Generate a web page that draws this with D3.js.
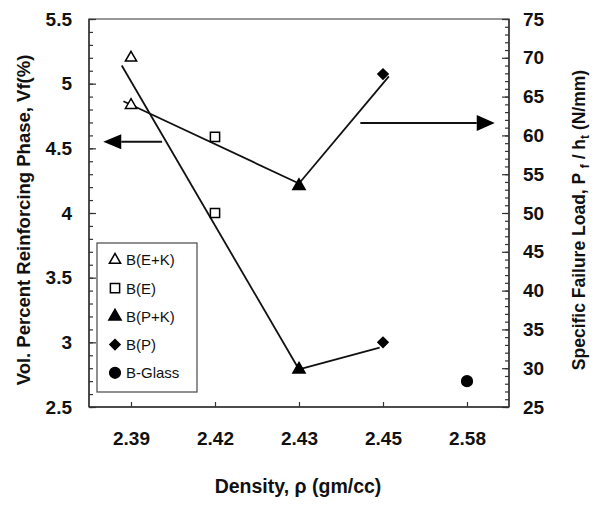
<!DOCTYPE html>
<html>
 <head>
  <meta charset="UTF-8">
  <title>Density vs Vf and failure load</title>
  <style>
    body { margin: 0; background: #fff; }
    text { font-family: "Liberation Sans", Arial, Helvetica, sans-serif; }
  </style>
 </head>
 <body>
<div id="viz-wrapper"></div>
 <script src="https://cdn.jsdelivr.net/npm/d3@7"></script>
 <script type="text/javascript">
    // category axis (density values)
    var categories = ["2.39", "2.42", "2.43", "2.45", "2.58"];

    // series: category index, left axis value (Vf %) and right axis value (load N/mm)
    var seriesNames = ["B(E+K)", "B(E)", "B(P+K)", "B(P)", "B-Glass"];
    var seriesCat   = [0, 1, 2, 3, 4];
    var vfValues    = [5.2, 4.0, 2.79, 3.0, 2.7];
    var loadValues  = [63.9, 59.8, 53.5, 67.9, null];

    // trend lines, x in category units
    var vfTrendA   = [[-0.11, 5.14], [2, 2.79]];
    var vfTrendB   = [[2, 2.79], [2.96, 2.96]];
    var loadTrendA = [[-0.09, 64.4], [2, 53.8]];
    var loadTrendB = [[2, 53.8], [3.07, 67.6]];

    // axis tick values
    var leftMajor  = [2.5, 3, 3.5, 4, 4.5, 5, 5.5];
    var rightMajor = [25, 30, 35, 40, 45, 50, 55, 60, 65, 70, 75];

    var width = 596, height = 505;
    // plot box edges (note: "top" is reserved on window, so use other names)
    var plotL = 89, plotR = 509, plotT = 19, plotB = 407;

    var svg = d3.select("#viz-wrapper")
                .append("svg")
                .attr("width", width)
                .attr("height", height);

    var x  = d3.scaleLinear().domain([-0.5, 4.5]).range([plotL, plotR]);
    var yL = d3.scaleLinear().domain([2.5, 5.5]).range([plotB, plotT]);
    var yR = d3.scaleLinear().domain([25, 75]).range([plotB, plotT]);

    // frame
    svg.append("rect")
       .attr("x", plotL).attr("y", plotT)
       .attr("width", plotR - plotL).attr("height", plotB - plotT)
       .attr("fill", "none").attr("stroke", "#777").attr("stroke-width", 1.5);

    function styleAxis(g) {
        g.select(".domain").remove();
        g.selectAll("line").attr("stroke", "#333").attr("stroke-width", 1.2);
        g.selectAll("text").attr("font-size", 19).attr("font-weight", "bold")
         .attr("fill", "#111").style("font-family", '"Liberation Sans", Arial, sans-serif');
    }

    // left axis: minor + major
    svg.append("g").attr("transform", "translate(" + plotL + ",0)")
       .call(d3.axisLeft(yL).tickValues(d3.range(25, 56).map(function(d) { return d / 10; }))
               .tickSize(-4).tickFormat(""))
       .call(styleAxis);
    svg.append("g").attr("transform", "translate(" + plotL + ",0)")
       .call(d3.axisLeft(yL).tickValues(leftMajor).tickSize(-7).tickPadding(17)
               .tickFormat(d3.format("")))
       .call(styleAxis);

    // right axis
    svg.append("g").attr("transform", "translate(" + plotR + ",0)")
       .call(d3.axisRight(yR).tickValues(d3.range(25, 76)).tickSize(-4).tickFormat(""))
       .call(styleAxis);
    svg.append("g").attr("transform", "translate(" + plotR + ",0)")
       .call(d3.axisRight(yR).tickValues(rightMajor).tickSize(-7).tickPadding(14)
               .tickFormat(d3.format("")))
       .call(styleAxis);

    // bottom axis
    svg.append("g").attr("transform", "translate(0," + plotB + ")")
       .call(d3.axisBottom(x).tickValues(d3.range(categories.length)).tickSize(-5).tickPadding(25)
               .tickFormat(function(i) { return categories[i]; }))
       .call(styleAxis);
    svg.append("line")
       .attr("x1", plotL).attr("x2", plotR).attr("y1", plotB).attr("y2", plotB)
       .attr("stroke", "#333").attr("stroke-width", 1.5);
    svg.append("line")
       .attr("x1", plotL).attr("x2", plotL).attr("y1", plotT).attr("y2", plotB)
       .attr("stroke", "#333").attr("stroke-width", 1.5);
    svg.append("line")
       .attr("x1", plotR).attr("x2", plotR).attr("y1", plotT).attr("y2", plotB)
       .attr("stroke", "#333").attr("stroke-width", 1.5);

    // trend lines
    var lineL = d3.line().x(function(d) { return x(d[0]); }).y(function(d) { return yL(d[1]); });
    var lineR = d3.line().x(function(d) { return x(d[0]); }).y(function(d) { return yR(d[1]); });
    [vfTrendA, vfTrendB].forEach(function(t) {
        svg.append("path").attr("d", lineL(t)).attr("fill", "none")
           .attr("stroke", "#111").attr("stroke-width", 1.8);
    });
    [loadTrendA, loadTrendB].forEach(function(t) {
        svg.append("path").attr("d", lineR(t)).attr("fill", "none")
           .attr("stroke", "#111").attr("stroke-width", 1.8);
    });

    // marker styles per series
    var markers = [
        { type: d3.symbolTriangle, size: 55, fill: "#fff", rot: 0 },
        { type: d3.symbolSquare,   size: 85, fill: "#fff", rot: 0 },
        { type: d3.symbolTriangle, size: 65, fill: "#000", rot: 0 },
        { type: d3.symbolSquare,   size: 52, fill: "#000", rot: 45 },
        { type: d3.symbolCircle,   size: 90, fill: "#000", rot: 0 }
    ];

    function drawMarker(g, i, px, py) {
        var m = markers[i];
        g.append("path")
         .attr("d", d3.symbol().type(m.type).size(m.size)())
         .attr("transform", "translate(" + px + "," + py + ") rotate(" + m.rot + ")")
         .attr("fill", m.fill)
         .attr("stroke", "#000")
         .attr("stroke-width", 1.5);
    }

    seriesNames.forEach(function(name, i) {
        if (vfValues[i] != null) drawMarker(svg, i, x(seriesCat[i]), yL(vfValues[i]));
        if (loadValues[i] != null) drawMarker(svg, i, x(seriesCat[i]), yR(loadValues[i]));
    });

    // arrows showing which axis each curve belongs to
    function arrow(x1, x2, y, head, half) {
        var dir = x2 > x1 ? 1 : -1;
        svg.append("line").attr("x1", x1).attr("x2", x2 - dir * head)
           .attr("y1", y).attr("y2", y).attr("stroke", "#111").attr("stroke-width", 2);
        svg.append("path")
           .attr("d", "M" + x2 + "," + y + "L" + (x2 - dir * head) + "," + (y - half) +
                      "L" + (x2 - dir * head) + "," + (y + half) + "Z")
           .attr("fill", "#000");
    }
    arrow(x(0.37), x(-0.33), yL(4.55), 18, 7.5);
    arrow(x(2.73), x(4.33), yR(61.6), 18, 8);

    // legend
    var lg = svg.append("g");
    lg.append("rect").attr("x", 97).attr("y", 243).attr("width", 100).attr("height", 149)
      .attr("fill", "#fff").attr("stroke", "#555").attr("stroke-width", 1.3);
    seriesNames.forEach(function(name, i) {
        var cy = 260 + i * 28.2;
        drawMarker(lg, i, 115, cy);
        lg.append("text").attr("x", 126).attr("y", cy).attr("dy", "0.36em")
          .attr("font-size", 15).attr("fill", "#111").text(name);
    });

    // axis titles
    svg.append("text")
       .attr("transform", "translate(24,220) rotate(-90)")
       .attr("text-anchor", "middle").attr("dy", "0.35em")
       .attr("font-size", 18.5).attr("font-weight", "bold").attr("fill", "#111")
       .text("Vol. Percent Reinforcing Phase, Vf(%)");

    var rt = svg.append("text")
       .attr("transform", "translate(579,220) rotate(-90)")
       .attr("text-anchor", "middle").attr("dy", "0.35em")
       .attr("font-size", 17.5).attr("font-weight", "bold").attr("fill", "#111");
    rt.append("tspan").text("Specific Failure Load, P ");
    rt.append("tspan").attr("font-size", 12).attr("dy", "4").text("f");
    rt.append("tspan").attr("dy", "-4").text(" / h");
    rt.append("tspan").attr("font-size", 12).attr("dy", "4").text("t");
    rt.append("tspan").attr("dy", "-4").text(" (N/mm)");

    svg.append("text")
       .attr("x", 298).attr("y", 493)
       .attr("text-anchor", "middle")
       .attr("font-size", 19.5).attr("font-weight", "bold").attr("fill", "#111")
       .text("Density, \u03c1 (gm/cc)");
 </script>
 </body>
</html>
